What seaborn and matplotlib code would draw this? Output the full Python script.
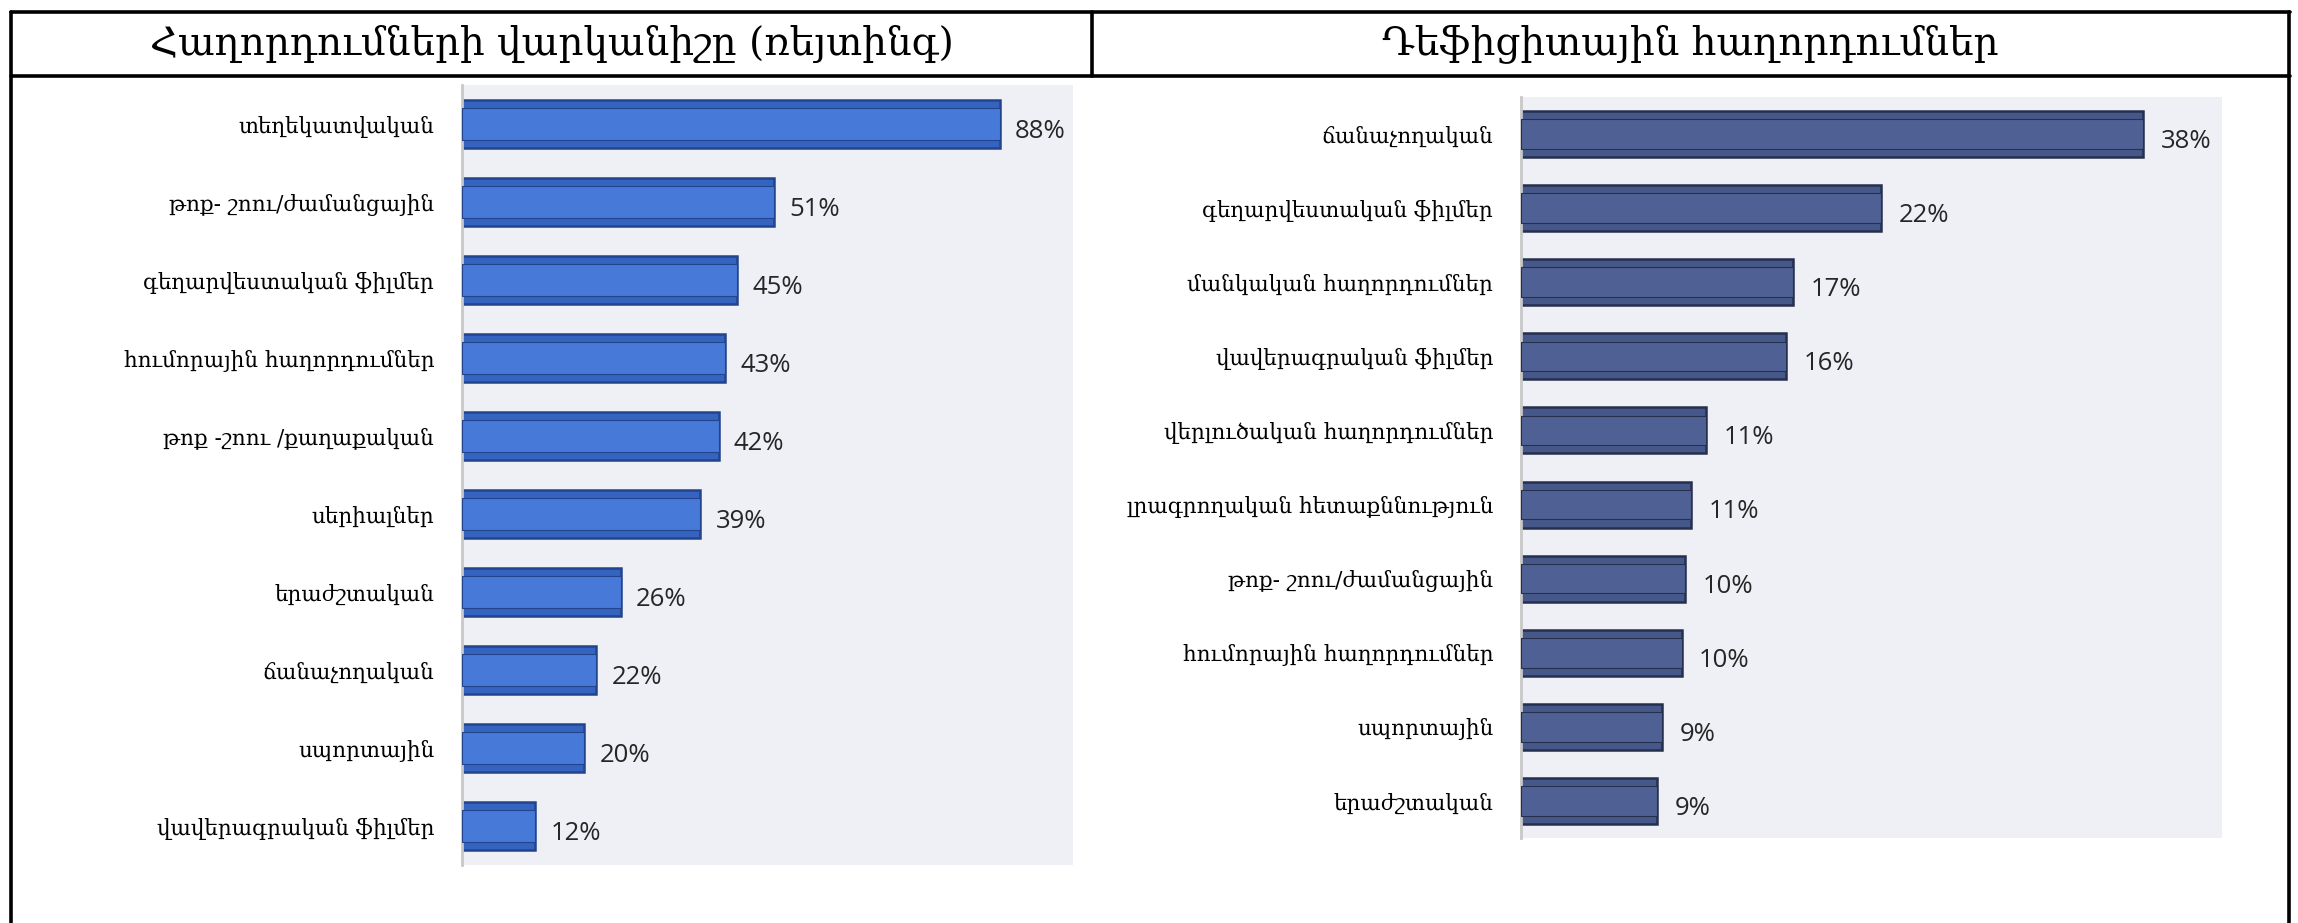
import matplotlib
matplotlib.use("Agg")
import matplotlib.pyplot as plt
import seaborn as sns
import pandas as pd
from matplotlib.lines import Line2D

# left chart: ratings of programs
left_title = "Հաղորդումների վարկանիշը (ռեյտինգ)"
left_cats = ["տեղեկատվական", "թոք- շոու/ժամանցային", "գեղարվեստական ֆիլմեր",
             "հումորային հաղորդումներ", "թոք -շոու /քաղաքական", "սերիալներ",
             "երաժշտական", "ճանաչողական", "սպորտային", "վավերագրական ֆիլմեր"]
left_vals = [88, 51, 45, 43, 42, 39, 26, 22, 20, 12]
left_labels = ["88%", "51%", "45%", "43%", "42%", "39%", "26%", "22%", "20%", "12%"]

# right chart: deficit programs
right_title = "Դեֆիցիտային հաղորդումներ"
right_cats = ["ճանաչողական", "գեղարվեստական ֆիլմեր", "մանկական հաղորդումներ",
              "վավերագրական ֆիլմեր", "վերլուծական հաղորդումներ",
              "լրագրողական հետաքննություն", "թոք- շոու/ժամանցային",
              "հումորային հաղորդումներ", "սպորտային", "երաժշտական"]
right_vals = [38, 22, 16.6, 16.2, 11.3, 10.4, 10.0, 9.8, 8.6, 8.3]
right_labels = ["38%", "22%", "17%", "16%", "11%", "11%", "10%", "10%", "9%", "9%"]

sns.set_style("white")
plt.rcParams['font.family'] = ['DejaVu Serif']

fig = plt.figure(figsize=(22.98, 9.23), dpi=100)
W, H = 2298, 923

# table borders
lw = 2.6
def hline(y, x0, x1):
    fig.add_artist(Line2D([x0 / W, x1 / W], [1 - y / H, 1 - y / H], color="black", lw=lw))
def vline(x, y0, y1):
    fig.add_artist(Line2D([x / W, x / W], [1 - y0 / H, 1 - y1 / H], color="black", lw=lw))

hline(12, 11, 2290)
hline(76, 11, 2290)
vline(11, 12, 923)
vline(2289, 12, 923)
vline(1092, 12, 76)

title_kw = dict(ha="center", va="center", fontsize=28, family=["DejaVu Serif"], color="black")
fig.text(552 / W, 1 - 44 / H, left_title, **title_kw)
fig.text(1690 / W, 1 - 44 / H, right_title, **title_kw)


def draw(ax, cats, vals, labels, xmax, face, light, edge):
    df = pd.DataFrame({"cat": cats, "val": vals})
    ax.set_facecolor("#eff0f6")
    sns.barplot(data=df, x="val", y="cat", orient="h", color=face, width=0.62,
                edgecolor=edge, linewidth=1.8, saturation=1, ax=ax, zorder=2)
    # inner raised face of the bevel
    sns.barplot(data=df, x="val", y="cat", orient="h", color=light, width=0.40,
                edgecolor=edge, linewidth=0.8, saturation=1, ax=ax, zorder=3)
    ax.set_xlim(0, xmax)
    ax.set_ylim(len(cats) - 0.5, -0.5)
    for i, (v, lab) in enumerate(zip(vals, labels)):
        ax.text(v + xmax * 0.025, i + 0.1, lab, va="center", ha="left", fontsize=18.5,
                family=["Open Sans"], color="#262626")
    ax.set_xticks([])
    ax.set_xlabel("")
    ax.set_ylabel("")
    ax.tick_params(axis="y", length=0, pad=20)
    for t in ax.get_yticklabels():
        t.set_fontsize(15.5)
        t.set_color("black")
    for s in ["top", "right", "bottom"]:
        ax.spines[s].set_visible(False)
    ax.spines["left"].set_color("#c8c8c8")
    ax.spines["left"].set_linewidth(2)


ax1 = fig.add_axes([462 / W, 1 - 865 / H, (1073 - 462) / W, (865 - 85) / H])
draw(ax1, left_cats, left_vals, left_labels, 100,
     face="#3563c0", light="#477ad8", edge="#22448c")

ax2 = fig.add_axes([1521 / W, 1 - 838 / H, (2222 - 1521) / W, (838 - 97) / H])
draw(ax2, right_cats, right_vals, right_labels, 42.8,
     face="#46588a", light="#4f6194", edge="#252f4e")

fig.savefig("out.png", dpi=100)
